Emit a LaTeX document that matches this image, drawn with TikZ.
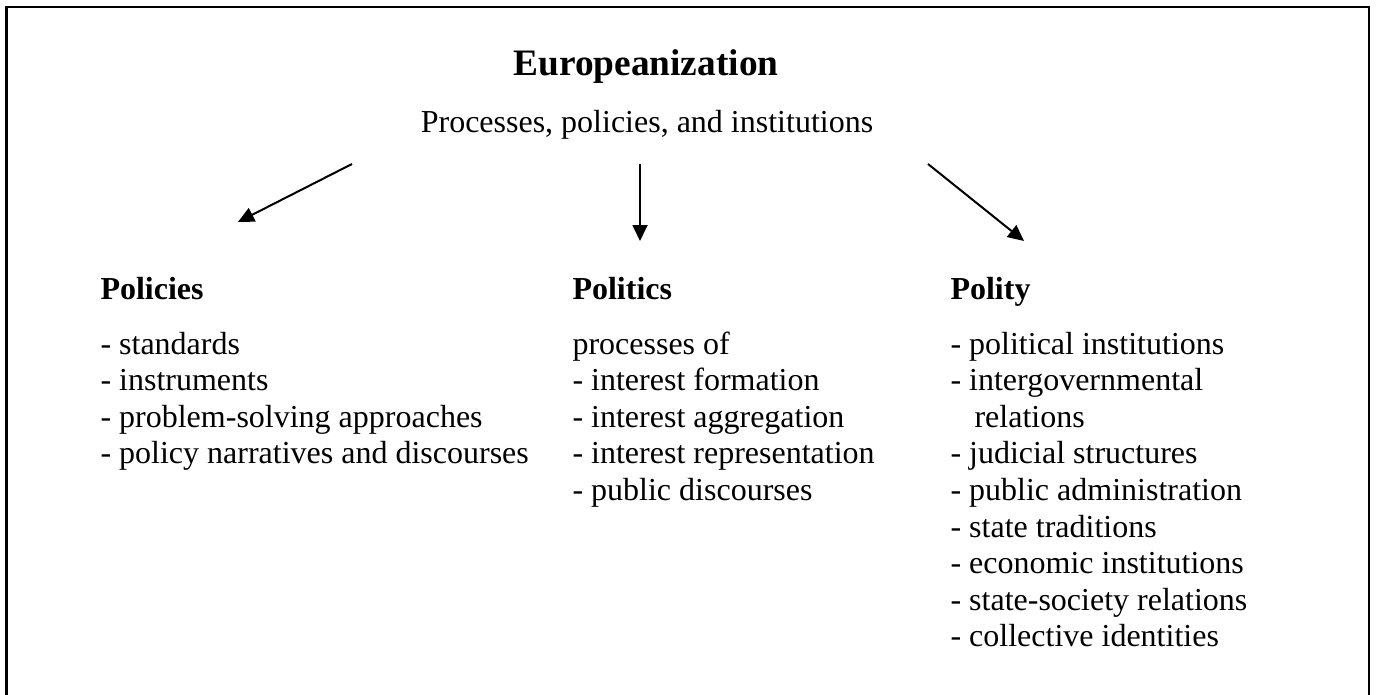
\documentclass[tikz,border=0pt]{standalone}
\usepackage{fontspec}
\setmainfont{Liberation Serif}
\usepackage{tikz}
\usetikzlibrary{positioning,arrows.meta}

\begin{document}
\begin{tikzpicture}[x=0.375pt, y=-0.375pt, >={Triangle[length=6pt,width=5.6pt]},
  txt/.style={inner sep=0pt, anchor=base west, font=\fontsize{12}{13.8}\selectfont},
  head/.style={txt, font=\fontsize{12}{13.8}\selectfont\bfseries},
  conn/.style={->, line width=0.75pt}]

\useasboundingbox (0,0) rectangle (1376,695);

% open frame (no bottom edge)
\draw [line width=0.9pt] (6.5,695) -- (6.5,7) -- (1369,7) -- (1369,695);

\node (title) [inner sep=0pt, anchor=base, font=\fontsize{14}{16}\selectfont\bfseries] at (646,76) {Europeanization};
\node (subtitle) [txt, anchor=base] at (647,133) {Processes, policies, and institutions};

\node (policies-head) [head] at (100,299) {Policies};
\node (politics-head) [head] at (572,299) {Politics};
\node (polity-head) [head] at (950,299) {Polity};

\foreach \l [count=\i] in {- standards, - instruments, - problem-solving approaches, - policy narratives and discourses}
  \node (policies-\i) [txt] at (100,{354+(\i-1)*36.6}) {\l};

\foreach \l [count=\i] in {processes of, - interest formation, - interest aggregation, - interest representation, - public discourses}
  \node (politics-\i) [txt] at (572,{354+(\i-1)*36.6}) {\l};

\foreach \l [count=\i] in {- political institutions, - intergovernmental, \hspace*{9pt}relations, - judicial structures, - public administration, - state traditions, - economic institutions, - state-society relations, - collective identities}
  \node (polity-\i) [txt] at (950,{354+(\i-1)*36.6}) {\l};

% arrows
\foreach \n/\sx/\ex/\ey in {l/352/238/222, m/640/640/241, r/928/1024/241} {
  \coordinate (from-\n) at (\sx,164);
  \coordinate (to-\n) at (\ex,\ey);
  \draw [conn] (from-\n) -- (to-\n);
}

\end{tikzpicture}
\end{document}
